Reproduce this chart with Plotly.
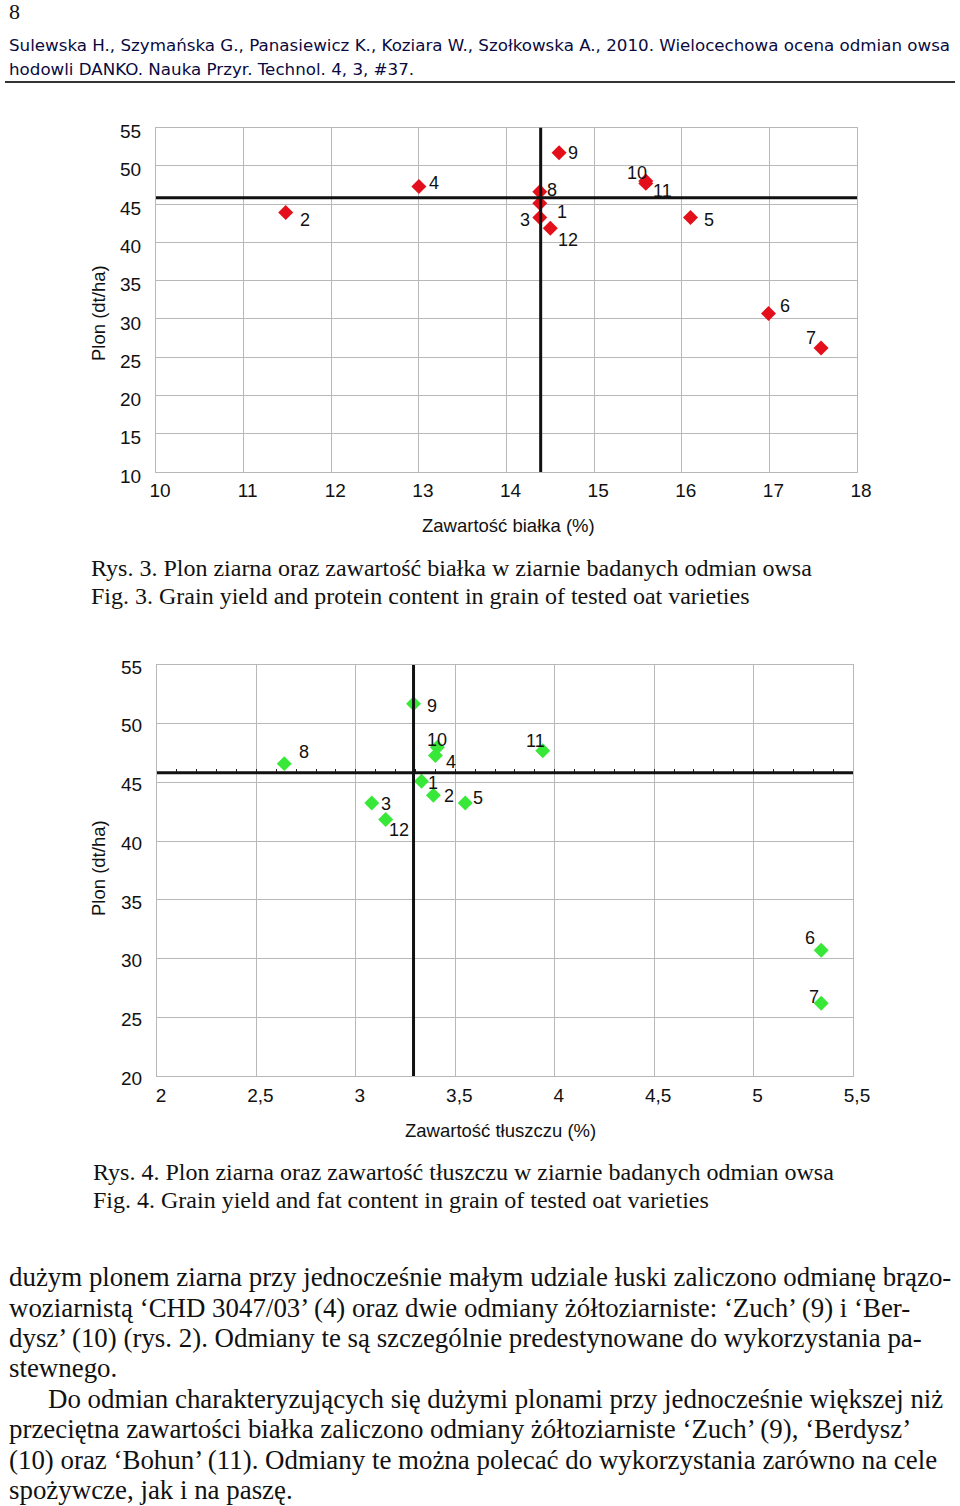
import plotly.graph_objects as go

W, H = 960, 1506

# ---------------- data ----------------
varieties = ["1", "2", "3", "4", "5", "6", "7", "8", "9", "10", "11", "12"]
yield_dt = [45.1, 43.9, 43.25, 47.3, 43.25, 30.7, 26.2, 46.6, 51.7, 48.0, 47.7, 41.85]
protein = [14.38, 11.48, 14.38, 13.0, 16.1, 16.99, 17.59, 14.38, 14.6, 15.59, 15.59, 14.5]
fat = [3.33, 3.39, 3.08, 3.40, 3.55, 5.34, 5.34, 2.64, 3.29, 3.41, 3.94, 3.15]
mean_protein = 14.39
mean_fat = 3.29
mean_yield = 45.82

x1_ticks = [10, 11, 12, 13, 14, 15, 16, 17, 18]
y1_ticks = [10, 15, 20, 25, 30, 35, 40, 45, 50, 55]
x2_ticks = [2, 2.5, 3, 3.5, 4, 4.5, 5, 5.5]
x2_ticktext = ["2", "2,5", "3", "3,5", "4", "4,5", "5", "5,5"]
y2_ticks = [20, 25, 30, 35, 40, 45, 50, 55]

# label offsets in pixels (style only)
off1 = [(22, -9), (19, -8), (-15, -3), (15, 3), (18, -3), (16, 8), (-10, 10),
        (12, 2), (14, 0), (-9, 8), (17, -8), (18, -12)]
off2 = [(12, -2), (16, -1), (14, -1), (16, -7), (13, 5), (-11, 12), (-7, 6),
        (20, 12), (18, -2), (0, 7), (-7, 10), (13, -11)]

RED = "#e3101b"
GREEN = "#38e838"
GRID = "#b8b8b8"
SANS = "Liberation Sans, Arial, sans-serif"
SERIF = "Liberation Serif, Times New Roman, serif"
HEAD = "DejaVu Sans, Verdana, sans-serif"


def px(x):
    return x / W


def py(y):
    return 1 - y / H


fig = go.Figure()

fig.add_trace(go.Scatter(
    x=protein, y=yield_dt, mode="markers", xaxis="x", yaxis="y",
    marker=dict(symbol="diamond", size=11.5, color=RED, line=dict(width=0)),
    hoverinfo="skip", showlegend=False))

fig.add_trace(go.Scatter(
    x=fat, y=yield_dt, mode="markers", xaxis="x2", yaxis="y2",
    marker=dict(symbol="diamond", size=11.5, color=GREEN, line=dict(width=0)),
    hoverinfo="skip", showlegend=False))

# invisible trace to carry the tick axis on the mean line of chart 2
fig.add_trace(go.Scatter(
    x=fat, y=yield_dt, mode="markers", xaxis="x3", yaxis="y2",
    marker=dict(size=1, opacity=0), hoverinfo="skip", showlegend=False))

# domains (target pixels)
c1x = [px(156), px(857)]
c1y = [py(472), py(127.5)]
c2x = [px(157), px(853)]
c2y = [py(1076), py(665)]

axis_common = dict(showgrid=True, gridcolor=GRID, gridwidth=1, showline=True,
                   linecolor=GRID, linewidth=1, mirror=True, zeroline=False,
                   automargin=False,
                   ticks="", tickfont=dict(family=SANS, size=19, color="#111"))

y2range = [20, 55]
tick_pos = c2y[0] + (mean_yield - y2range[0]) / (y2range[1] - y2range[0]) * (c2y[1] - c2y[0])

fig.update_layout(
    template="none",
    width=W, height=H, margin=dict(l=0, r=0, t=0, b=0, autoexpand=False),
    paper_bgcolor="white", plot_bgcolor="white", showlegend=False,
    xaxis=dict(domain=c1x, anchor="y", range=[10, 18], tickvals=x1_ticks,
               ticklabelstandoff=1, ticklabelshift=4, **axis_common),
    yaxis=dict(domain=c1y, anchor="x", range=[10, 55], tickvals=y1_ticks,
               ticklabelstandoff=10, ticklabelshift=4, **axis_common),
    xaxis2=dict(domain=c2x, anchor="y2", range=[2, 5.5], tickvals=x2_ticks,
                ticktext=x2_ticktext, ticklabelstandoff=2, ticklabelshift=4,
                **axis_common),
    yaxis2=dict(domain=c2y, anchor="x2", range=y2range, tickvals=y2_ticks,
                ticklabelstandoff=10, ticklabelshift=2, **axis_common),
    xaxis3=dict(overlaying="x2", anchor="free", position=tick_pos, range=[2, 5.5],
                side="bottom", showgrid=False, showline=False, zeroline=False,
                automargin=False,
                showticklabels=False, ticks="inside", ticklen=4, tickwidth=1,
                tickcolor="#222", dtick=0.1, tick0=2),
)

shapes = []
# chart 1 mean lines
shapes.append(dict(type="line", xref="x", yref="y", x0=mean_protein, x1=mean_protein,
                   y0=10, y1=55, line=dict(color="#111", width=3)))
shapes.append(dict(type="line", xref="x", yref="y", x0=10, x1=18,
                   y0=mean_yield, y1=mean_yield, line=dict(color="#111", width=3)))
# chart 2 mean lines
shapes.append(dict(type="line", xref="x2", yref="y2", x0=mean_fat, x1=mean_fat,
                   y0=20, y1=55, line=dict(color="#111", width=3)))
shapes.append(dict(type="line", xref="x2", yref="y2", x0=2, x1=5.5,
                   y0=mean_yield, y1=mean_yield, line=dict(color="#111", width=3)))
# header rule
shapes.append(dict(type="line", xref="paper", yref="paper", x0=px(5), x1=px(955),
                   y0=py(82), y1=py(82), line=dict(color="#333", width=2)))
fig.update_layout(shapes=shapes)

ann = []
for i, lab in enumerate(varieties):
    ann.append(dict(x=protein[i], y=yield_dt[i], xref="x", yref="y", text=lab,
                    showarrow=False, xshift=off1[i][0], yshift=off1[i][1],
                    font=dict(family=SANS, size=18, color="#111")))
    ann.append(dict(x=fat[i], y=yield_dt[i], xref="x2", yref="y2", text=lab,
                    showarrow=False, xshift=off2[i][0], yshift=off2[i][1],
                    font=dict(family=SANS, size=18, color="#111")))


def text(x, y, s, size, family, anchor="left", angle=0, color="#111"):
    ann.append(dict(x=px(x), y=py(y), xref="paper", yref="paper", text=s,
                    showarrow=False, xanchor=anchor, yanchor="middle",
                    textangle=angle, font=dict(family=family, size=size, color=color)))


# axis titles
text(508, 525, "Zawartość białka (%)", 18.5, SANS, anchor="center")
text(98, 313, "Plon (dt/ha)", 18.5, SANS, anchor="center", angle=-90)
text(500, 1130, "Zawartość tłuszczu (%)", 18.5, SANS, anchor="center")
text(98, 868, "Plon (dt/ha)", 18.5, SANS, anchor="center", angle=-90)

# page header
text(7, 12, "8", 22, SERIF)
text(7, 45, "Sulewska H., Szymańska G., Panasiewicz K., Koziara W., Szołkowska A., 2010. "
     "Wielocechowa ocena odmian owsa", 16.7, HEAD, color="#0a0a40")
text(7, 69, "hodowli DANKO. Nauka Przyr. Technol. 4, 3, #37.", 16.7, HEAD, color="#0a0a40")

# captions
text(89, 568, "Rys. 3. Plon ziarna oraz zawartość białka w ziarnie badanych odmian owsa", 24, SERIF)
text(89, 596, "Fig. 3. Grain yield and protein content in grain of tested oat varieties", 24, SERIF)
text(91, 1172, "Rys. 4. Plon ziarna oraz zawartość tłuszczu w ziarnie badanych odmian owsa", 24, SERIF)
text(91, 1200, "Fig. 4. Grain yield and fat content in grain of tested oat varieties", 24, SERIF)

# body text
body = [
    (7, 1277, "dużym plonem ziarna przy jednocześnie małym udziale łuski zaliczono odmianę brązo-"),
    (7, 1308, "woziarnistą ‘CHD 3047/03’ (4) oraz dwie odmiany żółtoziarniste: ‘Zuch’ (9) i ‘Ber-"),
    (7, 1338, "dysz’ (10) (rys. 2). Odmiany te są szczególnie predestynowane do wykorzystania pa-"),
    (7, 1368, "stewnego."),
    (46, 1399, "Do odmian charakteryzujących się dużymi plonami przy jednocześnie większej niż"),
    (7, 1429, "przeciętna zawartości białka zaliczono odmiany żółtoziarniste ‘Zuch’ (9), ‘Berdysz’"),
    (7, 1460, "(10) oraz ‘Bohun’ (11). Odmiany te można polecać do wykorzystania zarówno na cele"),
    (7, 1490, "spożywcze, jak i na paszę."),
]
for x, y, s in body:
    text(x, y, s, 26.9, SERIF)

fig.update_layout(annotations=ann)
fig.write_html(
    "out.html",
    config={"displayModeBar": False},
    post_script="document.body.style.margin='0';document.body.style.padding='0';"
                "document.documentElement.style.overflow='hidden';"
                "document.body.style.overflow='hidden';",
)
